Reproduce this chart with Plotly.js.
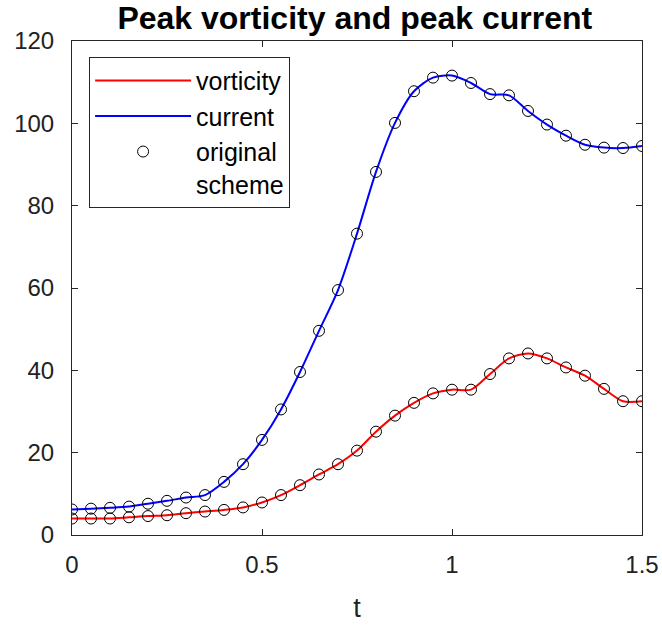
<!DOCTYPE html>
<html>
<head>
<meta charset="utf-8">
<script src="https://cdn.plot.ly/plotly-3.0.1.min.js"></script>
<style>html,body{margin:0;padding:0;background:#fff;}#chart{width:662px;height:628px;}</style>
</head>
<body>
<div id="chart"></div>
<script>
const t = [0,0.05,0.1,0.15,0.2,0.25,0.3,0.35,0.4,0.45,0.5,0.55,0.6,0.65,0.7,0.75,0.8,0.85,0.9,0.95,1.0,1.05,1.1,1.15,1.2,1.25,1.3,1.35,1.4,1.45,1.5];
const vorticity = [4.0,4.0,4.0,4.3,4.6,4.8,5.3,5.7,6.1,6.7,7.9,9.7,12.1,14.7,17.2,20.5,25.1,29.0,32.1,34.4,35.3,35.3,39.1,42.9,44.1,42.9,40.7,38.7,35.5,32.5,32.5];
const current = [6.2,6.4,6.6,6.9,7.6,8.3,9.1,9.7,12.9,17.2,23.1,30.5,39.6,49.6,59.5,73.2,88.2,100.1,107.8,111.1,111.6,109.8,107.1,106.8,103.0,99.7,97.0,94.8,94.1,94.0,94.5];
const xTicks = [0,0.5,1,1.5];
const xTickText = ['0','0.5','1','1.5'];
const yTicks = [0,20,40,60,80,100,120];

const font = 'Liberation Sans, Arial, Helvetica, sans-serif';
const axColor = '#262626';

const traces = [
  {x:t, y:vorticity, type:'scatter', mode:'lines', name:'vorticity',
   line:{color:'#ff0000', width:2, shape:'spline', smoothing:0.8}},
  {x:t, y:current, type:'scatter', mode:'lines', name:'current',
   line:{color:'#0000ff', width:2, shape:'spline', smoothing:0.8}},
  {x:t, y:current, type:'scatter', mode:'markers', name:'original<br>scheme', legendgroup:'orig',
   marker:{symbol:'circle-open', size:11, color:'#000', line:{width:1, color:'#000'}}},
  {x:t, y:vorticity, type:'scatter', mode:'markers', name:'original scheme', legendgroup:'orig', showlegend:false,
   marker:{symbol:'circle-open', size:11, color:'#000', line:{width:1, color:'#000'}}}
];

const axisCommon = {
  showgrid:false, zeroline:false, showline:true, linecolor:axColor, linewidth:1,
  mirror:'ticks', ticks:'inside', ticklen:6, tickwidth:1, tickcolor:axColor,
  tickfont:{family:font, size:24, color:'#222'}
};

const layout = {
  width:662, height:628,
  margin:{l:72, r:20, t:41, b:93},
  paper_bgcolor:'#fff', plot_bgcolor:'#fff',
  font:{family:font, color:'#000'},
  title:{text:'<b>Peak vorticity and peak current</b>', font:{family:font, size:32, color:'#000'},
         x:0.536, xanchor:'center', yref:'container', y:0.972, yanchor:'middle'},
  xaxis:Object.assign({}, axisCommon, {range:[0,1.5], tickvals:xTicks, ticktext:xTickText,
         ticklabelstandoff:8,
         title:{text:'t', font:{family:font, size:27, color:'#222'}, standoff:21}}),
  yaxis:Object.assign({}, axisCommon, {range:[0,120], tickvals:yTicks, ticklabelstandoff:12}),
  showlegend:true,
  legend:{x:0.03, y:0.968, xanchor:'left', yanchor:'top', bgcolor:'#fff',
          bordercolor:axColor, borderwidth:1, font:{family:font, size:25, color:'#000'},
          itemwidth:96, valign:'top', tracegroupgap:0, entrywidth:200, entrywidthmode:'pixels'}
};

Plotly.newPlot('chart', traces, layout, {displayModeBar:false, staticPlot:true});
</script>
</body>
</html>
